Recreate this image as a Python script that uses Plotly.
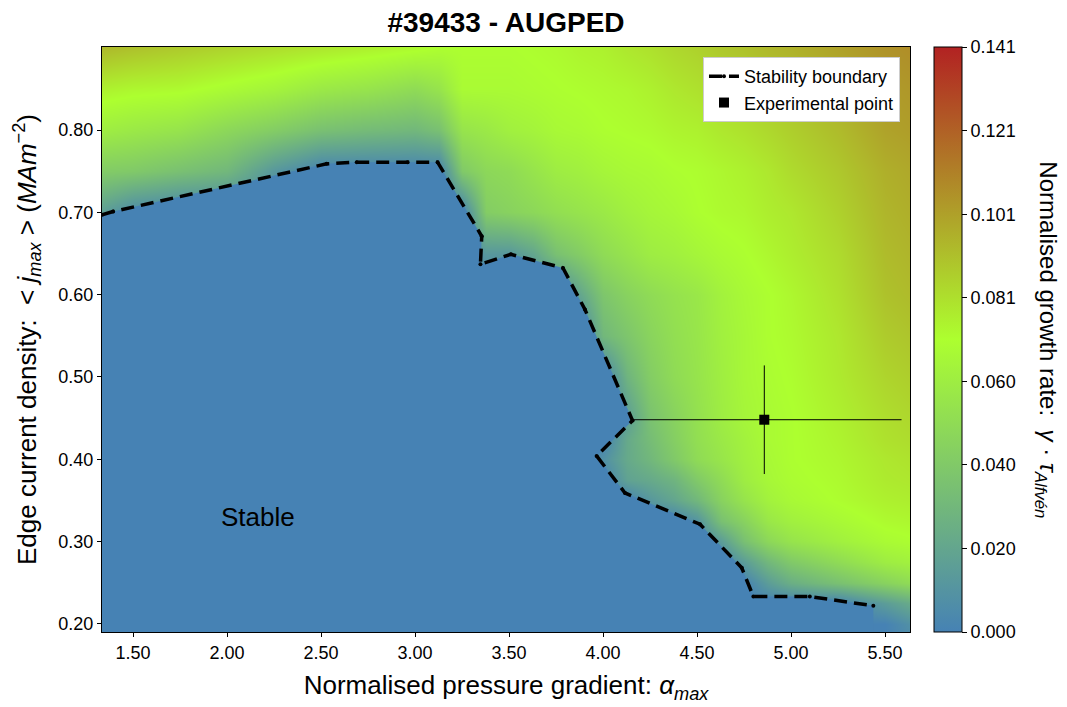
import plotly.graph_objects as go

# ---------------- data ----------------
# growth-rate grid: one list per alpha column, values for j_grid rows
alpha_grid = [1.25, 1.5, 1.75, 2.0, 2.25, 2.5, 2.75, 3.0, 3.125, 3.25, 3.375, 3.5, 3.625, 3.75,
              3.875, 4.0, 4.125, 4.25, 4.375, 4.5, 4.625, 4.75, 4.875, 5.0, 5.25, 5.5, 5.75]
j_grid = [0.15, 0.20, 0.225, 0.25, 0.275, 0.30, 0.325, 0.35, 0.375, 0.40, 0.425,
          0.45, 0.50, 0.55, 0.60, 0.65, 0.70, 0.75, 0.80, 0.85, 0.90, 0.95]

growth_columns = [
    # alpha = 1.25
    [0, 0, 0, 0, 0, 0, 0, 0, 0, 0, 0, 0, 0, 0, 0, 0, 0.022, 0.042, 0.062, 0.076, 0.094, 0.102],
    # alpha = 1.5
    [0, 0, 0, 0, 0, 0, 0, 0, 0, 0, 0, 0, 0, 0, 0, 0, 0.005, 0.040, 0.058, 0.073, 0.090, 0.100],
    # alpha = 1.75
    [0, 0, 0, 0, 0, 0, 0, 0, 0, 0, 0, 0, 0, 0, 0, 0, 0, 0.035, 0.055, 0.072, 0.087, 0.096],
    # alpha = 2.0
    [0, 0, 0, 0, 0, 0, 0, 0, 0, 0, 0, 0, 0, 0, 0, 0, 0, 0.030, 0.048, 0.068, 0.084, 0.093],
    # alpha = 2.25
    [0, 0, 0, 0, 0, 0, 0, 0, 0, 0, 0, 0, 0, 0, 0, 0, 0, 0.012, 0.042, 0.064, 0.081, 0.090],
    # alpha = 2.5
    [0, 0, 0, 0, 0, 0, 0, 0, 0, 0, 0, 0, 0, 0, 0, 0, 0, 0, 0.035, 0.058, 0.078, 0.088],
    # alpha = 2.75
    [0, 0, 0, 0, 0, 0, 0, 0, 0, 0, 0, 0, 0, 0, 0, 0, 0, 0, 0.032, 0.055, 0.075, 0.084],
    # alpha = 3.0
    [0, 0, 0, 0, 0, 0, 0, 0, 0, 0, 0, 0, 0, 0, 0, 0, 0, 0, 0.030, 0.050, 0.072, 0.080],
    # alpha = 3.125
    [0, 0, 0, 0, 0, 0, 0, 0, 0, 0, 0, 0, 0, 0, 0, 0, 0, 0, 0.035, 0.055, 0.070, 0.076],
    # alpha = 3.25
    [0, 0, 0, 0, 0, 0, 0, 0, 0, 0, 0, 0, 0, 0, 0, 0, 0, 0.040, 0.055, 0.068, 0.070, 0.074],
    # alpha = 3.375
    [0, 0, 0, 0, 0, 0, 0, 0, 0, 0, 0, 0, 0, 0, 0, 0.012, 0.042, 0.048, 0.058, 0.068, 0.070, 0.073],
    # alpha = 3.5
    [0, 0, 0, 0, 0, 0, 0, 0, 0, 0, 0, 0, 0, 0, 0, 0.012, 0.045, 0.050, 0.062, 0.068, 0.070, 0.073],
    # alpha = 3.625
    [0, 0, 0, 0, 0, 0, 0, 0, 0, 0, 0, 0, 0, 0, 0, 0.020, 0.048, 0.055, 0.064, 0.069, 0.071, 0.074],
    # alpha = 3.75
    [0, 0, 0, 0, 0, 0, 0, 0, 0, 0, 0, 0, 0, 0, 0, 0.035, 0.052, 0.060, 0.067, 0.070, 0.072, 0.076],
    # alpha = 3.875
    [0, 0, 0, 0, 0, 0, 0, 0, 0, 0, 0, 0, 0, 0, 0.020, 0.042, 0.055, 0.062, 0.068, 0.071, 0.074, 0.078],
    # alpha = 4.0
    [0, 0, 0, 0, 0, 0, 0, 0, 0, 0.008, 0, 0, 0, 0.030, 0.038, 0.050, 0.058, 0.065, 0.070, 0.072, 0.075, 0.080],
    # alpha = 4.125
    [0, 0, 0, 0, 0, 0, 0, 0, 0.018, 0.022, 0.022, 0.015, 0.028, 0.038, 0.045, 0.055, 0.062, 0.067, 0.071, 0.073, 0.078, 0.082],
    # alpha = 4.25
    [0, 0, 0, 0, 0, 0, 0, 0.012, 0.022, 0.030, 0.033, 0.036, 0.042, 0.046, 0.050, 0.060, 0.065, 0.068, 0.072, 0.075, 0.080, 0.086],
    # alpha = 4.375
    [0, 0, 0, 0, 0, 0, 0, 0.020, 0.028, 0.040, 0.043, 0.045, 0.050, 0.052, 0.054, 0.062, 0.067, 0.070, 0.074, 0.078, 0.083, 0.088],
    # alpha = 4.5
    [0, 0, 0, 0, 0, 0, 0.010, 0.030, 0.040, 0.050, 0.052, 0.053, 0.055, 0.056, 0.057, 0.065, 0.070, 0.071, 0.075, 0.080, 0.085, 0.090],
    # alpha = 4.625
    [0, 0, 0, 0, 0, 0.015, 0.035, 0.045, 0.050, 0.056, 0.058, 0.060, 0.061, 0.062, 0.063, 0.068, 0.072, 0.073, 0.078, 0.083, 0.088, 0.093],
    # alpha = 4.75
    [0, 0, 0, 0, 0.015, 0.035, 0.045, 0.055, 0.060, 0.062, 0.063, 0.065, 0.066, 0.066, 0.067, 0.070, 0.073, 0.075, 0.080, 0.085, 0.090, 0.095],
    # alpha = 4.875
    [0, 0, 0, 0.015, 0.030, 0.048, 0.057, 0.063, 0.066, 0.067, 0.068, 0.068, 0.069, 0.070, 0.070, 0.073, 0.076, 0.078, 0.083, 0.088, 0.093, 0.098],
    # alpha = 5.0
    [0, 0, 0, 0.025, 0.040, 0.055, 0.062, 0.067, 0.069, 0.070, 0.070, 0.070, 0.071, 0.072, 0.073, 0.076, 0.078, 0.082, 0.086, 0.090, 0.095, 0.100],
    # alpha = 5.25
    [0, 0, 0, 0.035, 0.050, 0.062, 0.067, 0.071, 0.072, 0.073, 0.074, 0.075, 0.077, 0.078, 0.080, 0.082, 0.085, 0.088, 0.092, 0.096, 0.100, 0.104],
    # alpha = 5.5
    [0, 0, 0.015, 0.045, 0.060, 0.068, 0.072, 0.075, 0.077, 0.078, 0.080, 0.081, 0.084, 0.087, 0.090, 0.092, 0.094, 0.096, 0.100, 0.102, 0.105, 0.108],
    # alpha = 5.75
    [0, 0.015, 0.030, 0.055, 0.065, 0.071, 0.074, 0.077, 0.079, 0.081, 0.083, 0.085, 0.088, 0.091, 0.094, 0.096, 0.098, 0.100, 0.103, 0.105, 0.108, 0.112],
]

# stability boundary
boundary_alpha = [1.335, 1.394, 2.53, 2.69, 2.96, 3.12, 3.355, 3.348, 3.51, 3.787, 3.904,
                  4.157, 3.966, 4.117, 4.516, 4.738, 4.80, 5.10, 5.438]
boundary_j = [0.697, 0.701, 0.759, 0.761, 0.761, 0.761, 0.671, 0.637, 0.649, 0.6325, 0.582,
              0.447, 0.404, 0.359, 0.321, 0.268, 0.233, 0.233, 0.222]

# experimental point
exp_alpha = [4.858]
exp_j = [0.448]
exp_alpha_err_plus = [0.73]
exp_alpha_err_minus = [0.70]
exp_j_err = [0.066]

# ticks
x_ticks = [1.5, 2.0, 2.5, 3.0, 3.5, 4.0, 4.5, 5.0, 5.5]
y_ticks = [0.2, 0.3, 0.4, 0.5, 0.6, 0.7, 0.8]
cbar_ticks = [0.0, 0.0201, 0.0403, 0.0604, 0.0806, 0.1007, 0.1209, 0.141]
cbar_labels = ["0.000", "0.020", "0.040", "0.060", "0.081", "0.101", "0.121", "0.141"]

# z matrix (rows = j, columns = alpha)
growth = [list(row) for row in zip(*growth_columns)]

# ---------------- figure ----------------
FONT = "Liberation Sans, Arial, sans-serif"
colorscale = [[0.0, "#4682b4"], [0.5, "#adff2f"], [1.0, "#b22222"]]

fig = go.Figure()

fig.add_trace(go.Heatmap(
    x=alpha_grid, y=j_grid, z=growth,
    zmin=0, zmax=0.141, zsmooth="best",
    colorscale=colorscale, hoverinfo="skip", showscale=True,
    colorbar=dict(
        x=1.0297, xanchor="left", xpad=0, y=0.5, yanchor="middle", ypad=0,
        len=1, lenmode="fraction", thickness=28, thicknessmode="pixels",
        outlinecolor="black", outlinewidth=1,
        tickmode="array", tickvals=cbar_ticks, ticktext=cbar_labels,
        ticks="outside", ticklen=5, tickcolor="black",
        tickfont=dict(family=FONT, size=18, color="black"),
    ),
))

# stable region (below the stability boundary)
fig.add_trace(go.Scatter(
    x=boundary_alpha, y=boundary_j, mode="lines", fill="tozeroy",
    fillcolor="#4682b4", line=dict(width=0, color="#4682b4"),
    showlegend=False, hoverinfo="skip",
))

fig.add_trace(go.Scatter(
    x=boundary_alpha, y=boundary_j, mode="lines+markers", name="Stability boundary",
    line=dict(color="black", width=3.5, dash="13px,7px"),
    marker=dict(color="black", size=4, symbol="circle"),
))

fig.add_trace(go.Scatter(
    x=exp_alpha, y=exp_j, mode="markers", name="Experimental point",
    marker=dict(color="black", size=10, symbol="square"),
    error_x=dict(type="data", symmetric=False, array=exp_alpha_err_plus,
                 arrayminus=exp_alpha_err_minus, color="black", thickness=1, width=0),
    error_y=dict(type="data", array=exp_j_err, color="black", thickness=1, width=0),
))

fig.update_layout(
    width=1067, height=707,
    margin=dict(l=102, r=157, t=47, b=70),
    paper_bgcolor="white", plot_bgcolor="white",
    font=dict(family=FONT, size=18, color="black"),
    title=dict(text="<b>#39433 - AUGPED</b>", x=0.5, xref="paper", xanchor="center",
               y=0.969, yref="container", yanchor="middle",
               font=dict(family=FONT, size=28, color="black")),
    legend=dict(x=0.9876, xanchor="right", y=0.983, yanchor="top",
                bgcolor="white", bordercolor="#cccccc", borderwidth=1,
                font=dict(family=FONT, size=18, color="black")),
    showlegend=True,
)

fig.update_xaxes(
    range=[1.335, 5.633], tickmode="array", tickvals=x_ticks, tickformat=".2f",
    ticks="outside", ticklen=4, tickcolor="black",
    showline=True, mirror=True, linecolor="black", linewidth=1,
    showgrid=False, zeroline=False,
    tickfont=dict(family=FONT, size=18),
    title=dict(text="Normalised pressure gradient: <i>α</i><sub><i>max</i></sub>",
               font=dict(family=FONT, size=26), standoff=14),
)
fig.update_yaxes(
    range=[0.19, 0.901], tickmode="array", tickvals=y_ticks, tickformat=".2f",
    ticks="outside", ticklen=4, tickcolor="black",
    showline=True, mirror=True, linecolor="black", linewidth=1,
    showgrid=False, zeroline=False,
    tickfont=dict(family=FONT, size=18),
    title=dict(text="Edge current density:  &lt; <i>j</i><sub><i>max</i></sub> &gt; (<i>MAm</i><sup>−2</sup>)",
               font=dict(family=FONT, size=26), standoff=14),
)

fig.add_annotation(x=2.165, y=0.330, xref="x", yref="y", text="Stable", showarrow=False,
                   font=dict(family=FONT, size=26, color="black"))

fig.add_annotation(x=1.1685, y=0.5, xref="paper", yref="paper", textangle=90,
                   text="Normalised growth rate:  <i>γ</i> · <i>τ</i><sub><i>Alfvén</i></sub>",
                   showarrow=False, xanchor="center", yanchor="middle",
                   font=dict(family=FONT, size=24, color="black"))

fig.write_html("out.html")
